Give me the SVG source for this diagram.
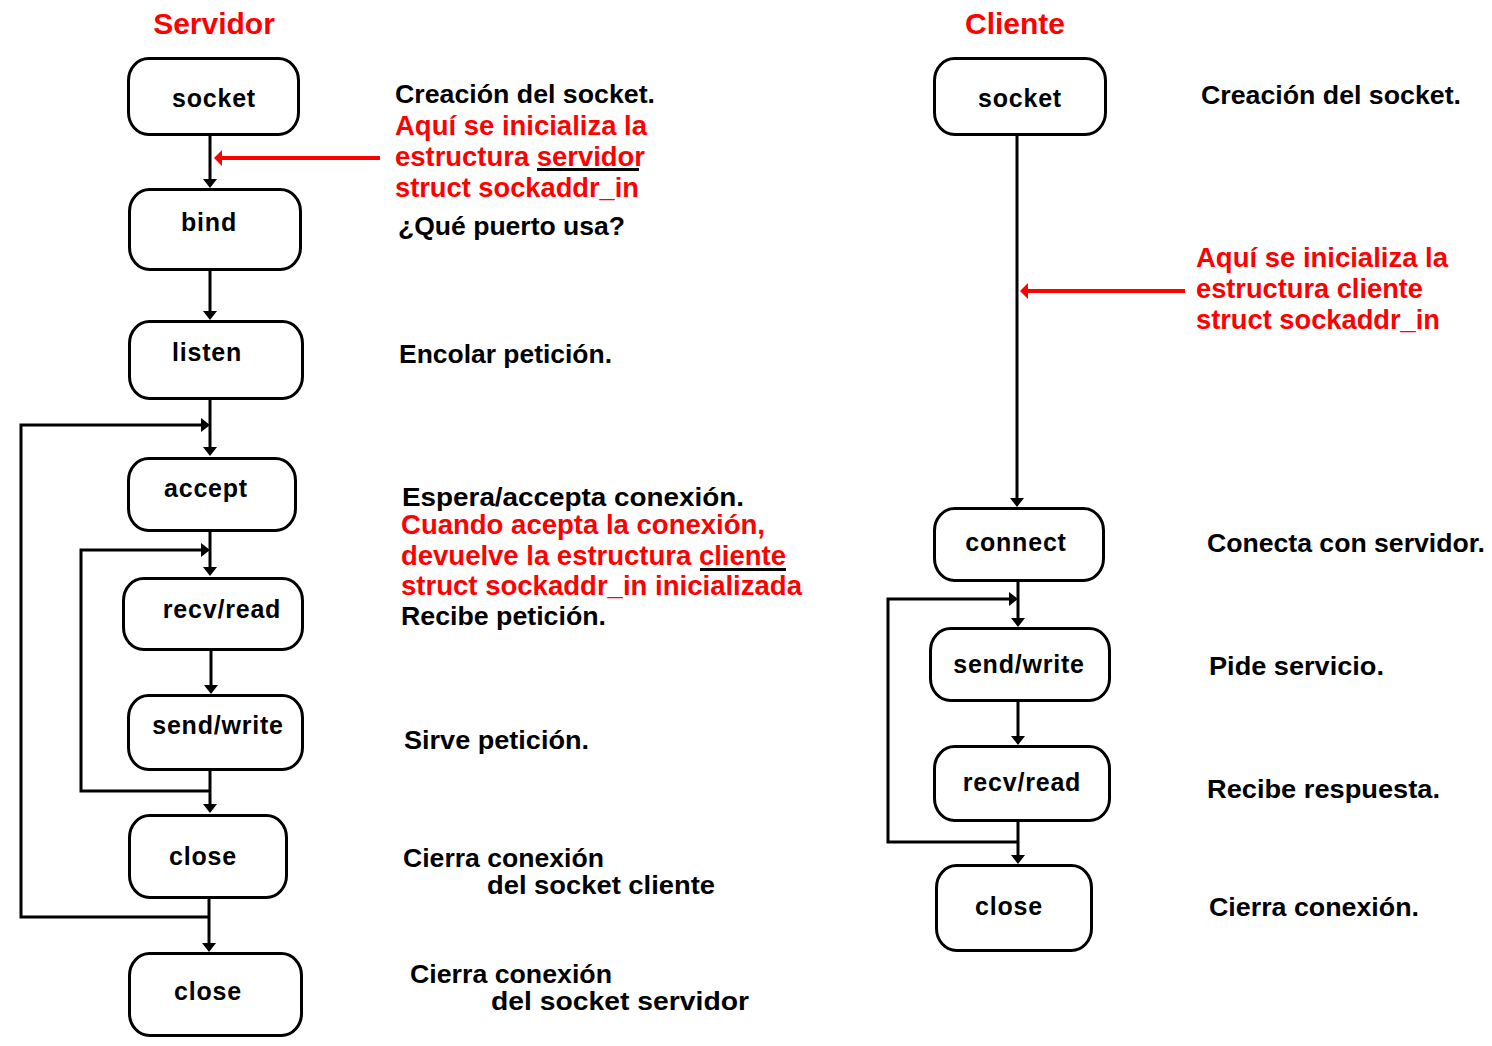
<svg xmlns="http://www.w3.org/2000/svg" width="1492" height="1046" viewBox="0 0 1492 1046">
<style>
  .box { fill: #fff; stroke: #000; stroke-width: 3; }
  .lbl { font-family: "Liberation Sans", Arial, sans-serif; font-weight: bold; font-size: 25px; fill: #000; text-anchor: middle; letter-spacing: 0.8px; }
  .desc { font-family: "Liberation Sans", Arial, sans-serif; font-weight: bold; font-size: 25px; fill: #000; }
  .red { font-family: "Liberation Sans", Arial, sans-serif; font-weight: bold; font-size: 27.5px; fill: #ff0000; }
  .title { font-family: "Liberation Sans", Arial, sans-serif; font-weight: bold; font-size: 30px; fill: #ff0000; text-anchor: middle; }
  .conn { fill: none; stroke: #000; stroke-width: 3; marker-end: url(#ah); }
  .rconn { fill: none; stroke: #ff0000; stroke-width: 4; marker-end: url(#rah); }
  .ul { stroke: #000; stroke-width: 3; }
</style>
<defs>
  <marker id="ah" markerUnits="userSpaceOnUse" markerWidth="10" markerHeight="14" viewBox="0 0 10 14" refX="0" refY="7" orient="auto">
    <path d="M0,0 L9,7 L0,14 Z" fill="#000"/>
  </marker>
  <marker id="rah" markerUnits="userSpaceOnUse" markerWidth="9" markerHeight="16" viewBox="0 0 9 16" refX="0" refY="8" orient="auto">
    <path d="M0,0 L8,8 L0,16 Z" fill="#ff0000"/>
  </marker>
</defs>
<rect x="0" y="0" width="1492" height="1046" fill="#fff"/>

<text class="title" x="214" y="34">Servidor</text>
<text class="title" x="1015" y="34">Cliente</text>

<g id="connectors">
  <path class="conn" d="M210,136 V179"/>
  <path class="conn" d="M210,271 V311"/>
  <path class="conn" d="M210,399 V447"/>
  <path class="conn" d="M210,532 V567"/>
  <path class="conn" d="M211,651 V685"/>
  <path class="conn" d="M210,771 V804"/>
  <path class="conn" d="M209,899 V943"/>
  <path class="conn" d="M209,917 H21 V425 H201"/>
  <path class="conn" d="M210,791 H81 V550 H201"/>
  <path class="conn" d="M1017,136 V498"/>
  <path class="conn" d="M1018,582 V618"/>
  <path class="conn" d="M1018,702 V736"/>
  <path class="conn" d="M1018,822 V855"/>
  <path class="conn" d="M1018,842 H888 V599 H1009"/>
  <path class="rconn" d="M380,158 H222"/>
  <path class="rconn" d="M1185,291 H1028"/>
</g>

<g id="s-socket"><rect class="box" x="128.5" y="58.5" width="170" height="76" rx="20" ry="22"/><text class="lbl" x="214" y="107">socket</text></g>
<g id="s-bind"><rect class="box" x="129.5" y="189.5" width="171" height="80" rx="20" ry="22"/><text class="lbl" x="209" y="231">bind</text></g>
<g id="s-listen"><rect class="box" x="129.5" y="321.5" width="173" height="77" rx="20" ry="22"/><text class="lbl" x="207" y="361">listen</text></g>
<g id="s-accept"><rect class="box" x="128.5" y="458.5" width="167" height="72" rx="20" ry="22"/><text class="lbl" x="206" y="497">accept</text></g>
<g id="s-recv"><rect class="box" x="123.5" y="578.5" width="179" height="71" rx="20" ry="22"/><text class="lbl" x="222" y="618">recv/read</text></g>
<g id="s-send"><rect class="box" x="128.5" y="695.5" width="174" height="74" rx="20" ry="22"/><text class="lbl" x="218" y="734">send/write</text></g>
<g id="s-close1"><rect class="box" x="129.5" y="815.5" width="157" height="82" rx="20" ry="22"/><text class="lbl" x="203" y="865">close</text></g>
<g id="s-close2"><rect class="box" x="129.5" y="953.5" width="172" height="82" rx="20" ry="22"/><text class="lbl" x="208" y="1000">close</text></g>

<g id="c-socket"><rect class="box" x="934.5" y="58.5" width="171" height="76" rx="20" ry="22"/><text class="lbl" x="1020" y="107">socket</text></g>
<g id="c-connect"><rect class="box" x="934.5" y="508.5" width="169" height="72" rx="20" ry="22"/><text class="lbl" x="1016" y="551">connect</text></g>
<g id="c-send"><rect class="box" x="930.5" y="628.5" width="179" height="72" rx="20" ry="22"/><text class="lbl" x="1019" y="673">send/write</text></g>
<g id="c-recv"><rect class="box" x="934.5" y="746.5" width="175" height="74" rx="20" ry="22"/><text class="lbl" x="1022" y="791">recv/read</text></g>
<g id="c-close"><rect class="box" x="936.5" y="865.5" width="155" height="85" rx="20" ry="22"/><text class="lbl" x="1009" y="915">close</text></g>

<g id="server-notes">
  <text class="desc" x="395" y="103" textLength="260" lengthAdjust="spacingAndGlyphs">Creación del socket.</text>
  <text class="red" x="395" y="135" textLength="252" lengthAdjust="spacingAndGlyphs">Aquí se inicializa la</text>
  <text class="red" x="395" y="166" textLength="250" lengthAdjust="spacingAndGlyphs">estructura servidor</text>
  <line class="ul" x1="537" y1="169.5" x2="639" y2="169.5"/>
  <text class="red" x="395" y="197" textLength="244" lengthAdjust="spacingAndGlyphs">struct sockaddr_in</text>
  <text class="desc" x="398" y="235" textLength="227" lengthAdjust="spacingAndGlyphs">¿Qué puerto usa?</text>
  <text class="desc" x="399" y="363" textLength="213" lengthAdjust="spacingAndGlyphs">Encolar petición.</text>
  <text class="desc" x="402" y="506" textLength="342" lengthAdjust="spacingAndGlyphs">Espera/accepta  conexión.</text>
  <text class="red" x="401" y="534" textLength="364" lengthAdjust="spacingAndGlyphs">Cuando acepta la conexión,</text>
  <text class="red" x="401" y="565" textLength="385" lengthAdjust="spacingAndGlyphs">devuelve la estructura cliente</text>
  <line class="ul" x1="700" y1="569.5" x2="786" y2="569.5"/>
  <text class="red" x="401" y="595" textLength="401" lengthAdjust="spacingAndGlyphs">struct sockaddr_in inicializada</text>
  <text class="desc" x="401" y="625" textLength="205" lengthAdjust="spacingAndGlyphs">Recibe petición.</text>
  <text class="desc" x="404" y="749" textLength="185" lengthAdjust="spacingAndGlyphs">Sirve petición.</text>
  <text class="desc" x="403" y="867" textLength="201" lengthAdjust="spacingAndGlyphs">Cierra conexión</text>
  <text class="desc" x="487" y="894" textLength="228" lengthAdjust="spacingAndGlyphs">del socket cliente</text>
  <text class="desc" x="410" y="983" textLength="202" lengthAdjust="spacingAndGlyphs">Cierra conexión</text>
  <text class="desc" x="491" y="1010" textLength="258" lengthAdjust="spacingAndGlyphs">del socket  servidor</text>
</g>

<g id="client-notes">
  <text class="desc" x="1201" y="104" textLength="260" lengthAdjust="spacingAndGlyphs">Creación del socket.</text>
  <text class="red" x="1196" y="267" textLength="252" lengthAdjust="spacingAndGlyphs">Aquí se inicializa la</text>
  <text class="red" x="1196" y="298" textLength="227" lengthAdjust="spacingAndGlyphs">estructura cliente</text>
  <text class="red" x="1196" y="329" textLength="244" lengthAdjust="spacingAndGlyphs">struct sockaddr_in</text>
  <text class="desc" x="1207" y="552" textLength="278" lengthAdjust="spacingAndGlyphs">Conecta con servidor.</text>
  <text class="desc" x="1209" y="675" textLength="175" lengthAdjust="spacingAndGlyphs">Pide servicio.</text>
  <text class="desc" x="1207" y="798" textLength="233" lengthAdjust="spacingAndGlyphs">Recibe respuesta.</text>
  <text class="desc" x="1209" y="916" textLength="210" lengthAdjust="spacingAndGlyphs">Cierra conexión.</text>
</g>
</svg>
